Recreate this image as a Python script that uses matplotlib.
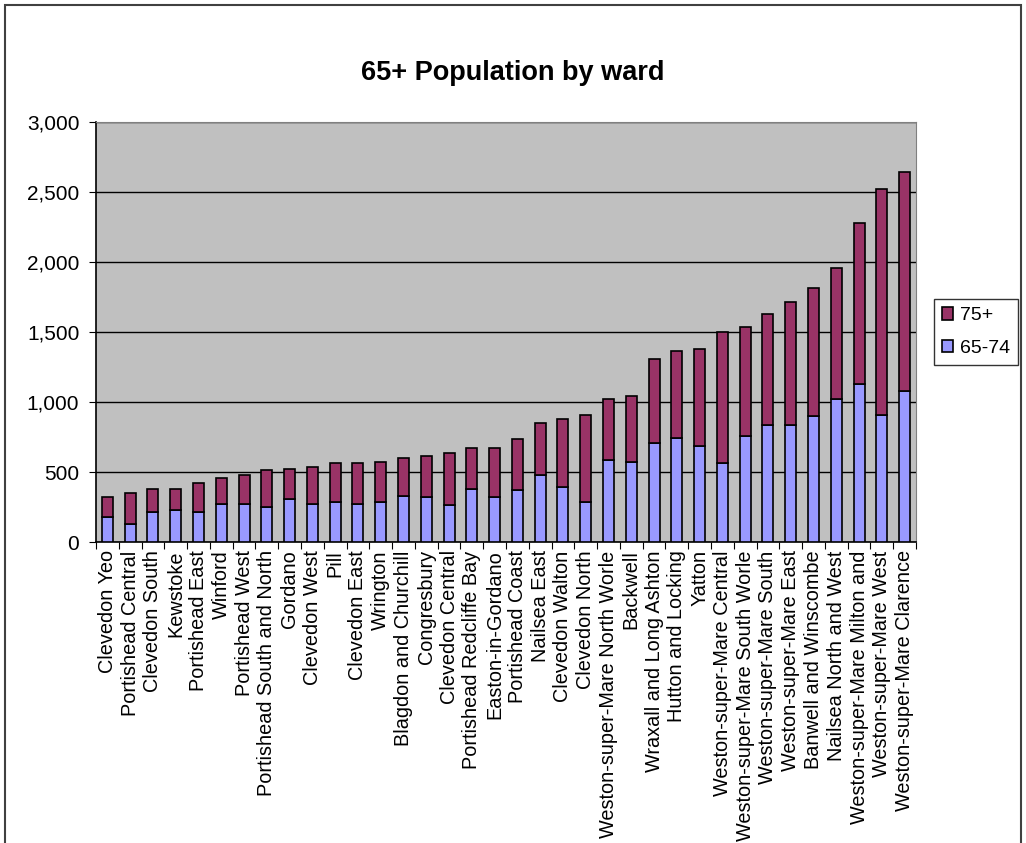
import matplotlib
matplotlib.use("Agg")
import matplotlib.pyplot as plt
from matplotlib.patches import Rectangle
from matplotlib.ticker import FuncFormatter, MultipleLocator
import numpy as np

plt.rcParams["font.family"] = ["Liberation Sans", "DejaVu Sans"]

WARDS = [
    "Clevedon Yeo", "Portishead Central", "Clevedon South", "Kewstoke",
    "Portishead East", "Winford", "Portishead West", "Portishead South and North",
    "Gordano", "Clevedon West", "Pill", "Clevedon East", "Wrington",
    "Blagdon and Churchill", "Congresbury", "Clevedon Central",
    "Portishead Redcliffe Bay", "Easton-in-Gordano", "Portishead Coast",
    "Nailsea East", "Clevedon Walton", "Clevedon North",
    "Weston-super-Mare North Worle", "Backwell", "Wraxall and Long Ashton",
    "Hutton and Locking", "Yatton", "Weston-super-Mare Central",
    "Weston-super-Mare South Worle", "Weston-super-Mare South",
    "Weston-super-Mare East", "Banwell and Winscombe", "Nailsea North and West",
    "Weston-super-Mare Milton and", "Weston-super-Mare West",
    "Weston-super-Mare Clarence",
]

AGE_65_74 = [179, 131, 214, 226, 214, 274, 274, 250, 307, 274, 286, 274, 286,
             331, 324, 264, 381, 324, 369, 479, 393, 288, 583, 571, 705, 740,
             686, 562, 757, 836, 836, 898, 1021, 1126, 907, 1081]
TOTAL_65_PLUS = [324, 348, 381, 381, 419, 455, 479, 514, 524, 538, 562, 562,
                 571, 598, 612, 636, 671, 671, 733, 850, 876, 910, 1019, 1040,
                 1307, 1367, 1377, 1500, 1536, 1631, 1717, 1814, 1957, 2281,
                 2521, 2640]
AGE_75_PLUS = [t - a for t, a in zip(TOTAL_65_PLUS, AGE_65_74)]

C_75 = "#993366"
C_6574 = "#9999FF"

fig = plt.figure(figsize=(10.26, 8.43), dpi=100)
ax = fig.add_axes([96 / 1026, 1 - 542 / 843, 820 / 1026, 420 / 843])
ax.set_facecolor("#C0C0C0")

x = np.arange(len(WARDS))
b1 = ax.bar(x, AGE_65_74, width=0.48, color=C_6574, edgecolor="black",
            linewidth=1.2, label="65-74", zorder=3)
b2 = ax.bar(x, AGE_75_PLUS, width=0.48, bottom=AGE_65_74, color=C_75,
            edgecolor="black", linewidth=1.2, label="75+", zorder=3)

ax.set_xlim(-0.5, len(WARDS) - 0.5)
ax.set_ylim(0, 3000)
ax.yaxis.set_major_locator(MultipleLocator(500))
ax.yaxis.set_major_formatter(FuncFormatter(lambda v, _: f"{int(v):,}"))
ax.grid(axis="y", color="black", linewidth=1, zorder=1)
ax.set_axisbelow(True)

# category ticks sit between bars, labels centred under bars
ax.set_xticks(np.arange(-0.5, len(WARDS)), minor=False)
ax.set_xticklabels([])
ax.set_xticks(x, minor=True)
ax.set_xticklabels(WARDS, minor=True, rotation=90, fontsize=14.3)
ax.tick_params(axis="x", which="minor", length=0, pad=6)
ax.tick_params(axis="x", which="major", length=5, direction="out")
ax.tick_params(axis="y", labelsize=15, length=5, pad=7)

for side in ("top", "right"):
    ax.spines[side].set_color("#808080")
for side in ("left", "bottom"):
    ax.spines[side].set_linewidth(1.2)

fig.text(0.5, 1 - 73 / 843, "65+ Population by ward", ha="center",
         va="center", fontsize=19.5, fontweight="bold")

fig.legend(handles=[b2, b1], labels=["75+", "65-74"], loc="center",
           bbox_to_anchor=(976 / 1026, 1 - 332 / 843), fontsize=14,
           frameon=True, fancybox=False, edgecolor="black", handlelength=0.6,
           handleheight=0.6, handletextpad=0.35, labelspacing=0.8,
           borderpad=0.4, borderaxespad=0)

fig.patches.append(Rectangle((5 / 1026, -0.05), 1016 / 1026, 1.05 - 5 / 843,
                             transform=fig.transFigure, fill=False,
                             edgecolor="#404040", linewidth=1.5))

fig.savefig("out.png", dpi=100, facecolor="white")
